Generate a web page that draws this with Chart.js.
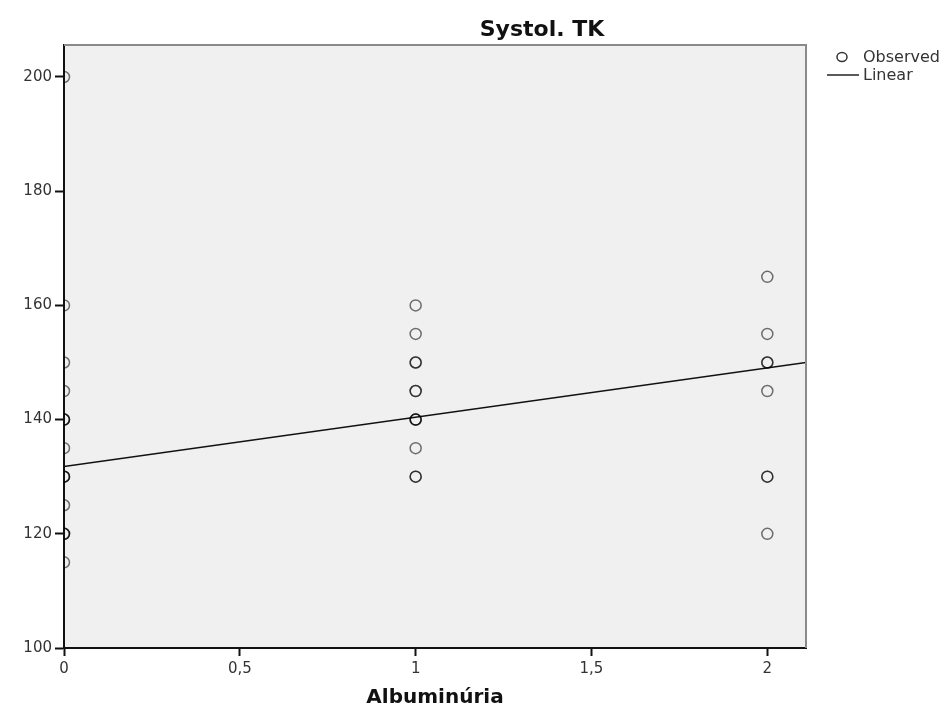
<!DOCTYPE html>
<html>
<head>
<meta charset="utf-8">
<script src="https://cdn.jsdelivr.net/npm/chart.js@4"></script>
<style>
  html, body { margin: 0; padding: 0; background: #fff; }
  #wrap { width: 948px; height: 710px; }
</style>
</head>
<body>
<div id="wrap"><canvas id="grafica" width="948" height="710"></canvas></div>
<script>
// Systol. TK vs Albuminúria (SPSS scatter with linear fit)
const albumin0 = [200, 160, 150, 145, 140, 140, 140, 135, 130, 130, 130, 125, 120, 120, 120, 115];
const albumin1 = [160, 155, 150, 150, 145, 145, 140, 140, 140, 135, 130, 130];
const albumin2 = [165, 155, 150, 150, 145, 130, 130, 120];
const lineaX = [0, 2.11];
const lineaY = [131.8, 150.0];
const xTicks = [0, 0.5, 1, 1.5, 2];
const yTicks = [100, 120, 140, 160, 180, 200];

const puntos = [];
albumin0.forEach((v) => puntos.push({ x: 0, y: v }));
albumin1.forEach((v) => puntos.push({ x: 1, y: v }));
albumin2.forEach((v) => puntos.push({ x: 2, y: v }));

const fuente = "'DejaVu Sans', Verdana, sans-serif";

const extras = {
  id: "extras",
  beforeDraw(chart) {
    const { ctx, chartArea: a } = chart;
    ctx.save();
    ctx.fillStyle = "#f0f0f0";
    ctx.fillRect(a.left, a.top, a.right - a.left, a.bottom - a.top);
    ctx.restore();
  },
  afterDraw(chart) {
    const { ctx, chartArea: a } = chart;
    ctx.save();
    // top and right frame
    ctx.strokeStyle = "#8a8a8a";
    ctx.lineWidth = 2;
    ctx.beginPath();
    ctx.moveTo(a.left, a.top);
    ctx.lineTo(a.right, a.top);
    ctx.lineTo(a.right, a.bottom);
    ctx.stroke();
    // title
    ctx.fillStyle = "#111";
    ctx.font = "bold 22px " + fuente;
    ctx.textAlign = "center";
    ctx.textBaseline = "middle";
    ctx.fillText("Systol. TK", 542, 30);
    // legend
    ctx.strokeStyle = "#333";
    ctx.lineWidth = 1.5;
    ctx.beginPath();
    ctx.ellipse(842, 57, 5, 4.5, 0, 0, Math.PI * 2);
    ctx.stroke();
    ctx.strokeStyle = "#222";
    ctx.beginPath();
    ctx.moveTo(827, 75);
    ctx.lineTo(859, 75);
    ctx.stroke();
    ctx.fillStyle = "#333";
    ctx.font = "16px " + fuente;
    ctx.textAlign = "left";
    ctx.fillText("Observed", 863, 58);
    ctx.fillText("Linear", 863, 76);
    ctx.restore();
  },
};

new Chart(document.getElementById("grafica"), {
  type: "scatter",
  data: {
    datasets: [
      {
        label: "Observed",
        data: puntos,
        pointRadius: 5.5,
        pointBorderWidth: 1.5,
        pointBackgroundColor: "rgba(0,0,0,0)",
        pointBorderColor: "rgba(0,0,0,0.55)",
        clip: 0,
      },
      {
        label: "Linear",
        type: "line",
        data: lineaX.map((x, i) => ({ x: x, y: lineaY[i] })),
        borderColor: "#111",
        borderWidth: 1.5,
        pointRadius: 0,
        clip: 0,
      },
    ],
  },
  options: {
    responsive: false,
    animation: false,
    layout: { padding: { top: 45, right: 142, left: 0, bottom: 0 } },
    plugins: {
      legend: { display: false },
      tooltip: { enabled: false },
    },
    scales: {
      x: {
        type: "linear",
        min: 0,
        max: 2.11,
        afterBuildTicks: (s) => { s.ticks = xTicks.map((v) => ({ value: v })); },
        afterFit: (s) => { s.height = 62; },
        ticks: {
          includeBounds: false,
          color: "#333",
          font: { family: fuente, size: 15 },
          padding: 4,
          callback: (v) => String(v).replace(".", ","),
        },
        grid: { drawOnChartArea: false, drawTicks: true, tickLength: 8, color: "#111", tickWidth: 2 },
        border: { color: "#111", width: 2 },
        title: {
          display: true,
          text: "Albuminúria",
          color: "#111",
          font: { family: fuente, size: 20, weight: "bold" },
          padding: { top: 10, bottom: 0 },
        },
      },
      y: {
        type: "linear",
        min: 100,
        max: 205.6,
        afterBuildTicks: (s) => { s.ticks = yTicks.map((v) => ({ value: v })); },
        afterFit: (s) => { s.width = 64; },
        ticks: {
          includeBounds: false,
          color: "#333",
          font: { family: fuente, size: 15 },
          padding: 3,
        },
        grid: { drawOnChartArea: false, drawTicks: true, tickLength: 9, color: "#111", tickWidth: 2 },
        border: { color: "#111", width: 2 },
      },
    },
  },
  plugins: [extras],
});
</script>
</body>
</html>
